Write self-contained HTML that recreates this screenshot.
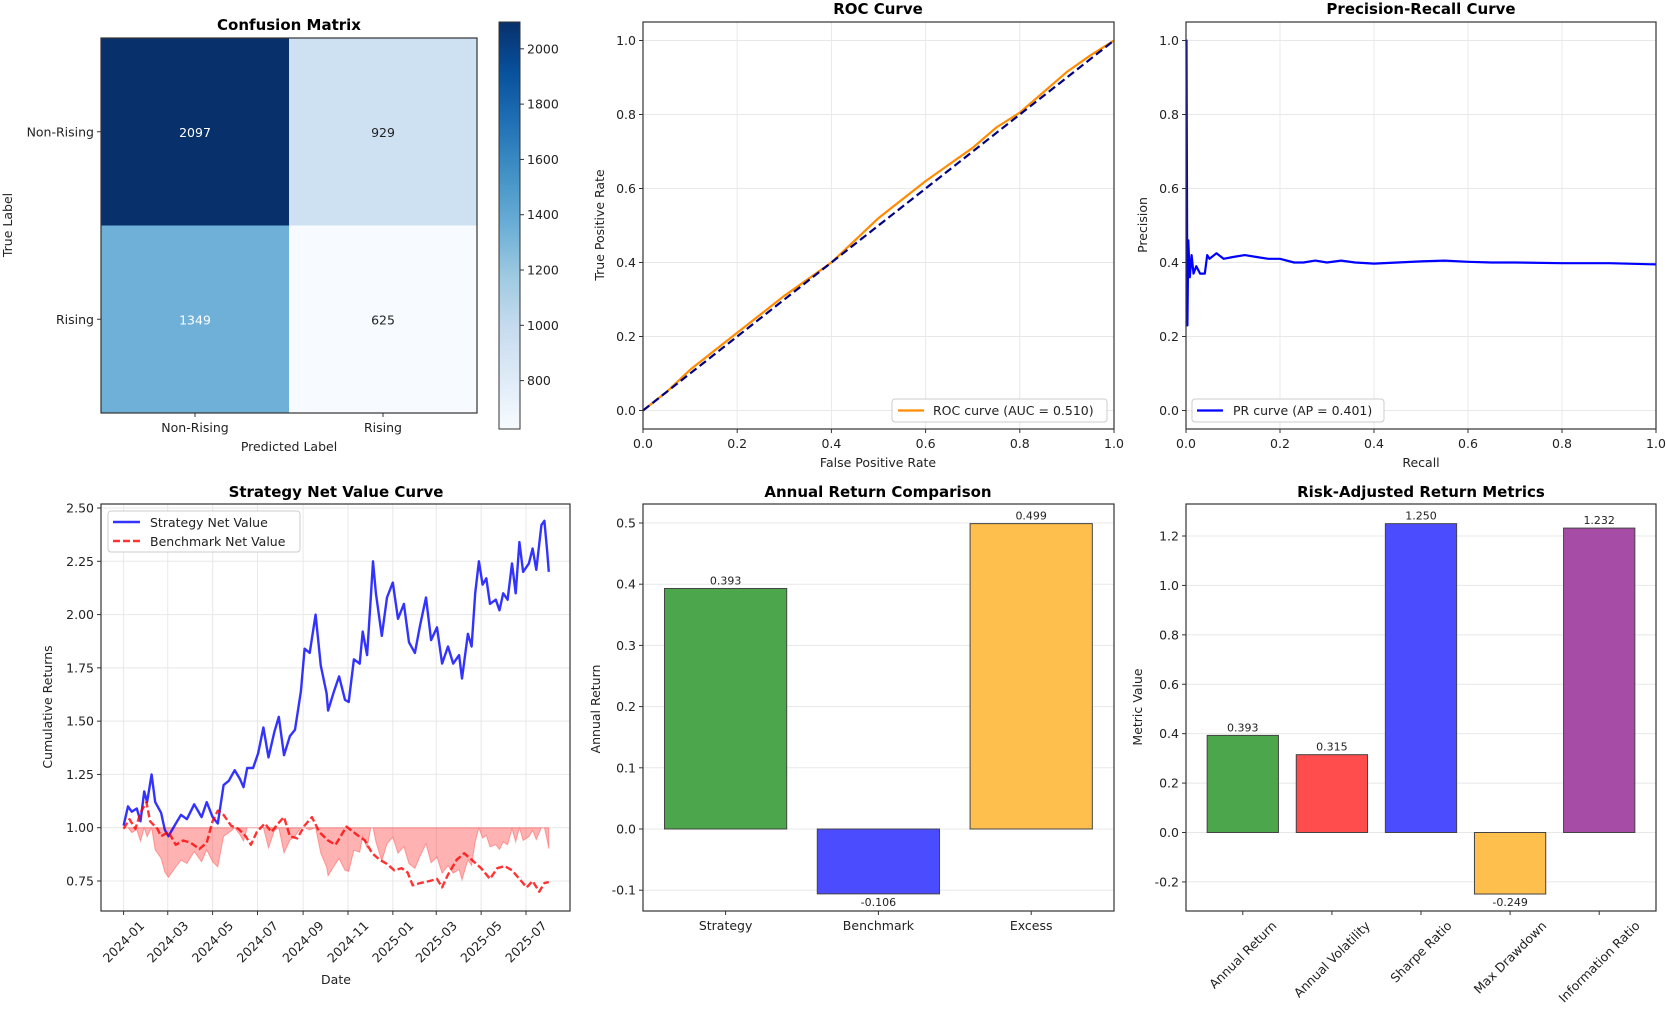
<!DOCTYPE html>
<html><head><meta charset="utf-8">
<style>
html,body{margin:0;padding:0;background:#fff;}
svg{display:block;font-family:"DejaVu Sans","Liberation Sans",sans-serif;}
</style></head>
<body>
<svg id="fig" width="1666" height="1012" viewBox="0 0 1666 1012" xmlns="http://www.w3.org/2000/svg"></svg>
<script>
// ---------- DATA ----------
const cmLabels = ["Non-Rising","Rising"];
const cmValues = [[2097,929],[1349,625]];
const cbTicks = [800,1000,1200,1400,1600,1800,2000];

const rocFpr = [0,0.05,0.1,0.15,0.2,0.25,0.3,0.35,0.4,0.45,0.5,0.55,0.6,0.65,0.7,0.75,0.8,0.85,0.9,0.95,1];
const rocTpr = [0,0.05,0.11,0.16,0.21,0.26,0.31,0.355,0.40,0.46,0.52,0.57,0.62,0.665,0.71,0.765,0.805,0.86,0.915,0.96,1];
const unitTicks = [0,0.2,0.4,0.6,0.8,1.0];

const prRecall = [0,0.001,0.002,0.003,0.005,0.008,0.012,0.016,0.022,0.03,0.04,0.045,0.05,0.065,0.08,0.1,0.125,0.15,0.175,0.2,0.23,0.25,0.275,0.3,0.33,0.36,0.4,0.45,0.5,0.55,0.6,0.65,0.7,0.8,0.9,1.0];
const prPrecision = [1.0,1.0,0.66,0.23,0.46,0.36,0.42,0.37,0.39,0.37,0.37,0.42,0.41,0.425,0.41,0.415,0.42,0.415,0.41,0.41,0.40,0.40,0.405,0.40,0.405,0.40,0.397,0.40,0.403,0.405,0.402,0.40,0.40,0.398,0.398,0.395];

// days since 2024-01-01
const stratDays = [0,6,11,18,23,28,32,38,43,51,56,61,71,78,86,96,106,113,121,128,136,143,151,158,163,168,176,183,190,197,205,211,218,226,233,241,246,253,261,268,276,278,286,293,301,306,313,321,325,331,336,339,343,351,358,366,373,381,388,396,403,411,418,426,433,441,448,456,460,468,473,478,483,488,493,498,506,511,516,522,528,533,538,543,551,556,561,568,572,576,578];
const stratVals = [1.01,1.10,1.075,1.09,1.03,1.17,1.12,1.25,1.12,1.07,0.99,0.96,1.02,1.06,1.04,1.11,1.05,1.12,1.05,1.02,1.20,1.22,1.27,1.23,1.19,1.28,1.28,1.35,1.47,1.33,1.45,1.52,1.34,1.43,1.46,1.64,1.84,1.82,2.00,1.76,1.63,1.55,1.64,1.71,1.60,1.59,1.79,1.77,1.92,1.81,2.08,2.25,2.10,1.90,2.08,2.15,1.98,2.05,1.87,1.82,1.95,2.08,1.88,1.94,1.77,1.85,1.77,1.81,1.70,1.91,1.85,2.10,2.25,2.14,2.17,2.05,2.07,2.02,2.10,2.07,2.24,2.10,2.34,2.20,2.24,2.31,2.21,2.42,2.44,2.29,2.20];
const benchDays = [0,8,16,23,31,36,46,51,61,71,81,91,103,113,121,128,136,146,156,166,173,181,192,201,210,218,226,236,246,256,266,278,288,303,316,328,338,348,358,368,378,386,393,403,416,426,433,441,453,463,473,486,498,508,518,528,538,548,556,565,572,578];
const benchVals = [0.995,1.04,0.995,1.07,1.12,1.03,0.995,0.96,0.98,0.92,0.94,0.93,0.90,0.93,1.03,1.08,1.06,1.01,0.995,0.96,0.92,0.98,1.02,0.98,1.02,1.05,0.96,0.95,1.01,1.05,0.98,0.94,0.92,1.005,0.97,0.94,0.88,0.85,0.83,0.80,0.81,0.79,0.73,0.74,0.75,0.76,0.72,0.78,0.85,0.88,0.85,0.81,0.76,0.81,0.82,0.80,0.76,0.72,0.75,0.70,0.74,0.745];
const nvTicks = [0.75,1.00,1.25,1.50,1.75,2.00,2.25,2.50];
const nvTickLabels = ["0.75","1.00","1.25","1.50","1.75","2.00","2.25","2.50"];
const dateTickDays = [0,60,121,182,244,305,366,425,486,547];
const dateTickLabels = ["2024-01","2024-03","2024-05","2024-07","2024-09","2024-11","2025-01","2025-03","2025-05","2025-07"];

const annCats = ["Strategy","Benchmark","Excess"];
const annVals = [0.393,-0.106,0.499];
const annColors = ["#4ca64c","#4c4cff","#ffbf4c"];
const annTicks = [-0.1,0,0.1,0.2,0.3,0.4,0.5];

const riskCats = ["Annual Return","Annual Volatility","Sharpe Ratio","Max Drawdown","Information Ratio"];
const riskVals = [0.393,0.315,1.250,-0.249,1.232];
const riskColors = ["#4ca64c","#ff4c4c","#4c4cff","#ffbf4c","#a64ca6"];
const riskTicks = [-0.2,0,0.2,0.4,0.6,0.8,1.0,1.2];

// ---------- HELPERS ----------
const NS="http://www.w3.org/2000/svg";
const fig=document.getElementById('fig');
function mk(tag,attrs,parent){const e=document.createElementNS(NS,tag);for(const k in attrs)e.setAttribute(k,attrs[k]);(parent||fig).appendChild(e);return e;}
function txt(s,attrs,parent){const e=mk('text',attrs,parent);e.textContent=s;return e;}
function lin(d0,d1,r0,r1){return v=>r0+(v-d0)/(d1-d0)*(r1-r0);}
const GRID="#e8e8e8", TXT="#222", FS=12.5;

function frame(L,T,R,B,name){const r=mk('rect',{x:L,y:T,width:R-L,height:B-T,fill:'none',stroke:'#333','stroke-width':1.2});

}
function title(s,x,y,name){const t=txt(s,{x:x,y:y,'text-anchor':'middle','font-size':15,'font-weight':'bold',fill:'#000'});

}
function yTitle(s,x,y,name){const t=txt(s,{x:0,y:0,transform:`translate(${x},${y}) rotate(-90)`,'text-anchor':'middle','font-size':FS,fill:TXT});

}
function xTitle(s,x,y,name){const t=txt(s,{x:x,y:y,'text-anchor':'middle','font-size':FS,fill:TXT});

}
function yTicks(ticks,labels,sy,L,R,grid,prefix){ticks.forEach((v,i)=>{const y=sy(v);
 if(grid){const g=mk('line',{x1:L,x2:R,y1:y,y2:y,stroke:GRID,'stroke-width':1});
 
 }
 const tk=mk('line',{x1:L-4,x2:L,y1:y,y2:y,stroke:'#333'});
 
 
 const t=txt(labels[i],{x:L-7,y:y+4.5,'text-anchor':'end','font-size':FS,fill:TXT});
 
 });}
function xTicks(ticks,labels,sx,T,B,grid,prefix){ticks.forEach((v,i)=>{const x=sx(v);
 if(grid){const g=mk('line',{x1:x,x2:x,y1:T,y2:B,stroke:GRID,'stroke-width':1});
 
 }
 const tk=mk('line',{x1:x,x2:x,y1:B,y2:B+4,stroke:'#333'});
 
 
 const t=txt(labels[i],{x:x,y:B+19,'text-anchor':'middle','font-size':FS,fill:TXT});
 
 });}
function rotXTicks(ticks,labels,sx,B,prefix,fs){ticks.forEach((v,i)=>{const x=sx(v);
 const tk=mk('line',{x1:x,x2:x,y1:B,y2:B+4,stroke:'#333'});
 
 
 const t=txt(labels[i],{x:0,y:0,'text-anchor':'middle','font-size':fs,fill:TXT});
 
 
 const L=t.getComputedTextLength();const cy=B+8+L*0.354+fs*0.35;
 t.setAttribute('transform',`translate(${x},${cy}) rotate(-45) translate(0,${fs*0.35})`);});}
function pathD(xs,ys,sx,sy){return xs.map((v,i)=>(i?'L':'M')+sx(v).toFixed(1)+','+sy(ys[i]).toFixed(1)).join(' ');}
function fmt1(v){return v.toFixed(1);}

// ---------- CONFUSION MATRIX ----------
(function(){
 const L=101,R=477,T=38,B=413;
 const blues=["#f7fbff","#deebf7","#c6dbef","#9ecae1","#6baed6","#4292c6","#2171b5","#08519c","#08306b"];
 const vmin=625,vmax=2097;
 function hex(h){return [1,3,5].map(i=>parseInt(h.substr(i,2),16));}
 function cmap(v){let t=(v-vmin)/(vmax-vmin);t=Math.max(0,Math.min(1,t));const p=t*(blues.length-1);const i=Math.min(Math.floor(p),blues.length-2);const f=p-i;const a=hex(blues[i]),b=hex(blues[i+1]);return `rgb(${a.map((c,k)=>Math.round(c+(b[k]-c)*f)).join(',')})`;}
 const sx=lin(-0.5,1.5,L,R), sy=lin(-0.5,1.5,T,B);
 cmValues.forEach((row,r)=>row.forEach((v,c)=>{
  const cell=mk('rect',{x:sx(c-0.5),y:sy(r-0.5),width:sx(c+0.5)-sx(c-0.5),height:sy(r+0.5)-sy(r-0.5),fill:cmap(v)});
  
  
  const t=txt(String(v),{x:sx(c),y:sy(r)+5,'text-anchor':'middle','font-size':FS,fill:v>(vmax/2)?'#fff':'#222'});
  
  
 }));
 frame(L,T,R,B,'confusion-matrix-axes');
 title('Confusion Matrix',289,30,'confusion-matrix-title');
 xTicks([0,1],cmLabels,sx,T,B,false,'cm');
 cmLabels.forEach((s,i)=>{const y=sy(i);
  const tk=mk('line',{x1:L-4,x2:L,y1:y,y2:y,stroke:'#333'});
  
  
  const t=txt(s,{x:L-7,y:y+4.5,'text-anchor':'end','font-size':FS,fill:TXT});
  
  });
 xTitle('Predicted Label',289,451,'cm-x-axis-title');
 yTitle('True Label',12,225,'cm-y-axis-title');
 // colorbar
 const cL=499,cR=520,cT=22,cB=429;
 const defs=mk('defs',{});
 const g=mk('linearGradient',{id:'bluesGrad',x1:0,y1:1,x2:0,y2:0},defs);
 blues.forEach((c,i)=>mk('stop',{offset:(i/(blues.length-1)),'stop-color':c},g));
 const cb=mk('rect',{x:cL,y:cT,width:cR-cL,height:cB-cT,fill:'url(#bluesGrad)',stroke:'#333','stroke-width':1});
 
 
 const cy=lin(vmin,vmax,cB,cT);
 cbTicks.forEach(v=>{const y=cy(v);
  const tk=mk('line',{x1:cR,x2:cR+4,y1:y,y2:y,stroke:'#333'});
  
  
  const t=txt(String(v),{x:cR+7,y:y+4.5,'font-size':FS,fill:TXT});
  
  });
})();

// ---------- ROC ----------
(function(){
 const L=643,R=1114,T=22,B=429;
 const sx=lin(0,1,L,R), sy=lin(-0.05,1.05,B,T);
 xTicks(unitTicks,unitTicks.map(fmt1),sx,T,B,true,'roc');
 yTicks(unitTicks,unitTicks.map(fmt1),sy,L,R,true,'roc');
 const p=mk('path',{d:pathD(rocFpr,rocTpr,sx,sy),fill:'none',stroke:'#ff8c00','stroke-width':2.2,'stroke-linejoin':'round'});
 
 
 const d=mk('line',{x1:sx(0),y1:sy(0),x2:sx(1),y2:sy(1),stroke:'#000080','stroke-width':2.2,'stroke-dasharray':'8,4'});
 
 
 frame(L,T,R,B,'roc-axes');
 title('ROC Curve',878,14,'roc-title');
 xTitle('False Positive Rate',878,467,'roc-x-axis-title');
 yTitle('True Positive Rate',604,225,'roc-y-axis-title');
 const lg=mk('rect',{x:892,y:399,width:215,height:23,fill:'#fff',stroke:'#ccc',rx:3});
 
 
 const ll=mk('line',{x1:898,x2:924,y1:410.5,y2:410.5,stroke:'#ff8c00','stroke-width':2.2});
 
 
 const lt=txt('ROC curve (AUC = 0.510)',{x:933,y:415,'font-size':FS,fill:TXT});
 
 
})();

// ---------- PR ----------
(function(){
 const L=1186,R=1656,T=22,B=429;
 const sx=lin(0,1,L,R), sy=lin(-0.05,1.05,B,T);
 xTicks(unitTicks,unitTicks.map(fmt1),sx,T,B,true,'pr');
 yTicks(unitTicks,unitTicks.map(fmt1),sy,L,R,true,'pr');
 const p=mk('path',{d:pathD(prRecall,prPrecision,sx,sy),fill:'none',stroke:'#0000ff','stroke-width':2.2,'stroke-linejoin':'round'});
 
 
 frame(L,T,R,B,'pr-axes');
 title('Precision-Recall Curve',1421,14,'pr-title');
 xTitle('Recall',1421,467,'pr-x-axis-title');
 yTitle('Precision',1147,225,'pr-y-axis-title');
 const lg=mk('rect',{x:1192,y:399,width:192,height:23,fill:'#fff',stroke:'#ccc',rx:3});
 
 
 const ll=mk('line',{x1:1197,x2:1223,y1:410.5,y2:410.5,stroke:'#0000ff','stroke-width':2.2});
 
 
 const lt=txt('PR curve (AP = 0.401)',{x:1233,y:415,'font-size':FS,fill:TXT});
 
 
})();

// ---------- NET VALUE ----------
(function(){
 const L=101,R=570,T=504,B=911;
 const sx=lin(0,547,123.6,526), sy=lin(0.75,2.5,881,508);
 dateTickDays.forEach(v=>{const x=sx(v);const g=mk('line',{x1:x,x2:x,y1:T,y2:B,stroke:GRID});
  
  });
 yTicks(nvTicks,nvTickLabels,sy,L,R,true,'nv');
 let peak=-Infinity;const dd=stratVals.map(v=>{peak=Math.max(peak,v);return 1+(v/peak-1);});
 let d='M'+sx(stratDays[0])+','+sy(1);
 stratDays.forEach((x,i)=>{d+=' L'+sx(x).toFixed(1)+','+sy(dd[i]).toFixed(1);});
 d+=' L'+sx(stratDays[stratDays.length-1])+','+sy(1)+' Z';
 const f=mk('path',{d:d,fill:'rgba(255,0,0,0.3)',stroke:'rgba(255,0,0,0.3)','stroke-width':1});
 
 
 const s=mk('path',{d:pathD(stratDays,stratVals,sx,sy),fill:'none',stroke:'rgba(0,0,255,0.8)','stroke-width':2.4,'stroke-linejoin':'round'});
 
 
 const b=mk('path',{d:pathD(benchDays,benchVals,sx,sy),fill:'none',stroke:'rgba(255,0,0,0.8)','stroke-width':2.4,'stroke-dasharray':'7,3','stroke-linejoin':'round'});
 
 
 frame(L,T,R,B,'net-value-axes');
 rotXTicks(dateTickDays,dateTickLabels,sx,B,'nv',FS);
 title('Strategy Net Value Curve',336,497,'net-value-title');
 xTitle('Date',336,984,'nv-x-axis-title');
 yTitle('Cumulative Returns',52,707,'nv-y-axis-title');
 const lg=mk('rect',{x:108,y:511,width:192,height:41,fill:'#fff',stroke:'#ccc',rx:3});
 
 
 const l1=mk('line',{x1:113,x2:140,y1:522,y2:522,stroke:'rgba(0,0,255,0.8)','stroke-width':2.4});
 
 
 const t1=txt('Strategy Net Value',{x:150,y:527,'font-size':FS,fill:TXT});
 
 
 const l2=mk('line',{x1:113,x2:140,y1:541,y2:541,stroke:'rgba(255,0,0,0.8)','stroke-width':2.4,'stroke-dasharray':'7,3'});
 
 
 const t2=txt('Benchmark Net Value',{x:150,y:546,'font-size':FS,fill:TXT});
 
 
})();

// ---------- ANNUAL RETURN ----------
(function(){
 const L=643,R=1114,T=504,B=911;
 const sy=lin(0,0.5,829,523);
 const sx=lin(0,1,725.6,878.4);
 yTicks(annTicks,annTicks.map(fmt1),sy,L,R,true,'annual');
 annVals.forEach((v,i)=>{const x0=sx(i-0.4),x1=sx(i+0.4);const y0=sy(0),y1=sy(v);
  const r=mk('rect',{x:x0,y:Math.min(y0,y1),width:x1-x0,height:Math.abs(y1-y0),fill:annColors[i],stroke:'#444','stroke-width':1});
  
  
  const t=txt(v.toFixed(3),{x:sx(i),y:v>=0?y1-4:y1+12,'text-anchor':'middle','font-size':11,fill:TXT});
  
  });
 frame(L,T,R,B,'annual-return-axes');
 xTicks([0,1,2],annCats,sx,T,B,false,'annual');
 title('Annual Return Comparison',878,497,'annual-return-title');
 yTitle('Annual Return',600,709,'annual-y-axis-title');
})();

// ---------- RISK METRICS ----------
(function(){
 const L=1186,R=1656,T=504,B=911;
 const sy=lin(0,1.2,832.5,536);
 const sx=lin(0,1,1242.8,1331.9);
 yTicks(riskTicks,riskTicks.map(fmt1),sy,L,R,true,'risk');
 riskVals.forEach((v,i)=>{const x0=sx(i-0.4),x1=sx(i+0.4);const y0=sy(0),y1=sy(v);
  const r=mk('rect',{x:x0,y:Math.min(y0,y1),width:x1-x0,height:Math.abs(y1-y0),fill:riskColors[i],stroke:'#444','stroke-width':1});
  
  
  const t=txt(v.toFixed(3),{x:sx(i),y:v>=0?y1-4:y1+12,'text-anchor':'middle','font-size':11,fill:TXT});
  
  });
 frame(L,T,R,B,'risk-metrics-axes');
 rotXTicks([0,1,2,3,4],riskCats,sx,B,'risk',FS);
 title('Risk-Adjusted Return Metrics',1421,497,'risk-metrics-title');
 yTitle('Metric Value',1142,707,'risk-y-axis-title');
})();
</script>
</body></html>
